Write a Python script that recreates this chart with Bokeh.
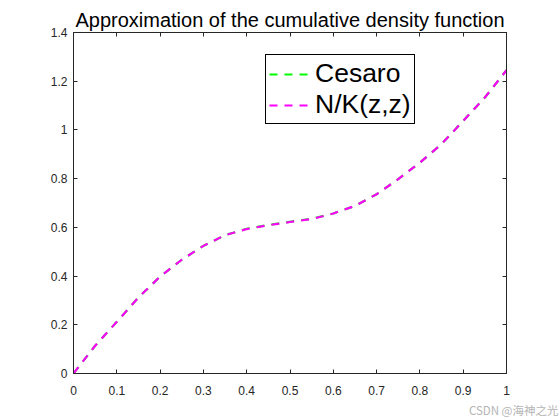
from bokeh.plotting import figure
from bokeh.models import LinearAxis, FixedTicker, Title, Range1d
from bokeh.embed import file_html
from bokeh.resources import INLINE

# ---- data ----
x_vals = [0.0, 0.05, 0.1, 0.15, 0.2, 0.25, 0.3, 0.35, 0.4, 0.45, 0.5,
          0.55, 0.6, 0.65, 0.7, 0.75, 0.8, 0.85, 0.9, 0.95, 1.0]
cesaro = [0.0, 0.114, 0.212, 0.312, 0.398, 0.467, 0.524, 0.568, 0.594, 0.610, 0.623,
          0.635, 0.657, 0.688, 0.736, 0.798, 0.866, 0.942, 1.037, 1.133, 1.245]
nk_zz = [0.0, 0.114, 0.212, 0.312, 0.398, 0.467, 0.524, 0.568, 0.593, 0.609, 0.622,
         0.634, 0.657, 0.688, 0.736, 0.798, 0.866, 0.942, 1.037, 1.133, 1.245]
x_ticks = [0, 0.1, 0.2, 0.3, 0.4, 0.5, 0.6, 0.7, 0.8, 0.9, 1.0]
x_tick_labels = ["0", "0.1", "0.2", "0.3", "0.4", "0.5", "0.6", "0.7", "0.8", "0.9", "1"]
y_ticks = [0, 0.2, 0.4, 0.6, 0.8, 1.0, 1.2, 1.4]
y_tick_labels = ["0", "0.2", "0.4", "0.6", "0.8", "1", "1.2", "1.4"]
title_text = "Approximation of the cumulative density function"
watermark = "CSDN @海神之光"

FONT = "Liberation Sans"
AX = "#262626"

p = figure(width=560, height=420, output_backend="svg", toolbar_location=None,
           x_range=Range1d(0, 1), y_range=Range1d(0, 1.4),
           min_border_left=73, min_border_right=54, min_border_top=32, min_border_bottom=47)
p.background_fill_color = "white"
p.border_fill_color = "white"
p.outline_line_color = AX
p.outline_line_width = 1
p.xgrid.visible = False
p.ygrid.visible = False

def style_axis(ax, ticks, labels, show_labels, standoff):
    ax.ticker = FixedTicker(ticks=ticks)
    ax.major_tick_in = 4
    ax.major_tick_out = 0
    ax.minor_tick_line_color = None
    ax.axis_line_color = AX
    ax.major_tick_line_color = AX
    ax.major_label_text_font = FONT
    ax.major_label_standoff = standoff
    if show_labels:
        ax.major_label_overrides = {t: l for t, l in zip(ticks, labels)}
        ax.major_label_text_font_size = "12px"
        ax.major_label_text_color = AX
    else:
        ax.major_label_overrides = {t: "" for t in ticks}
        ax.major_label_text_font_size = "1px"
        ax.major_label_text_alpha = 0

style_axis(p.xaxis[0], x_ticks, x_tick_labels, True, 12)
style_axis(p.yaxis[0], y_ticks, y_tick_labels, True, 6)

top_ax = LinearAxis()
style_axis(top_ax, x_ticks, x_tick_labels, False, 0)
p.add_layout(top_ax, "above")
right_ax = LinearAxis()
style_axis(right_ax, y_ticks, y_tick_labels, False, 0)
p.add_layout(right_ax, "right")

p.line(x_vals, cesaro, line_color="#00FF00", line_width=2.2, line_dash="8 7",
       legend_label="Cesaro")
p.line(x_vals, nk_zz, line_color="#FF00FF", line_width=2.2, line_dash="8 7",
       legend_label="N/K(z,z)")

lg = p.legend[0]
lg.location = (192, 249)
lg.margin = 0
lg.padding = 3
lg.spacing = -3
lg.label_standoff = 3
lg.glyph_width = 43
lg.glyph_height = 30
lg.label_height = 30
lg.label_text_font = FONT
lg.label_text_font_size = "26.5px"
lg.label_text_color = "black"
lg.border_line_color = "black"
lg.border_line_width = 1
lg.border_line_alpha = 1
lg.background_fill_color = "white"
lg.background_fill_alpha = 1

p.title.text = title_text
p.title.align = "center"
p.title.text_font = FONT
p.title.text_font_size = "20px"
p.title.text_font_style = "normal"
p.title.text_color = "black"
p.title.standoff = 4

wm = Title(text=watermark, align="right", offset=-52, text_font="Noto Sans CJK SC",
           text_font_size="11.5px", text_font_style="normal", text_color="#b4b4b4",
           standoff=4)
p.add_layout(wm, "below")

open("out.html", "w").write(file_html(p, INLINE))
